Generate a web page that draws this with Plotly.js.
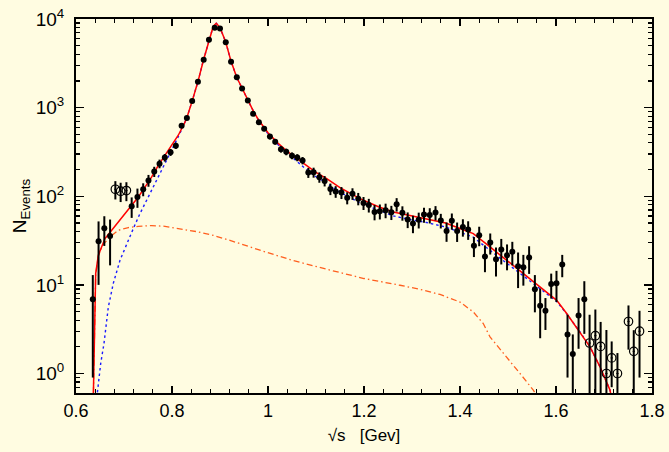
<!DOCTYPE html>
<html>
<head>
<meta charset="utf-8">
<script src="https://cdn.plot.ly/plotly-3.0.1.min.js"></script>
<style>html,body{margin:0;padding:0;background:#fffce1;}#chart{width:669px;height:452px;}</style>
</head>
<body>
<div id="chart"></div>
<script>
// ---- measured data (filled points) ----
const dataX = [0.635,0.647,0.659,0.671,0.716,0.728,0.740,0.751,0.763,0.774,0.785,0.797,0.808,0.820,0.831,0.842,0.854,0.866,0.877,0.889,0.900,0.912,0.923,0.935,0.946,0.958,0.969,0.981,0.992,1.004,1.015,1.027,1.038,1.050,1.061,1.072,1.084,1.095,1.107,1.118,1.130,1.141,1.153,1.165,1.176,1.188,1.199,1.210,1.222,1.233,1.245,1.257,1.268,1.280,1.291,1.302,1.314,1.325,1.337,1.349,1.360,1.372,1.383,1.394,1.406,1.417,1.429,1.440,1.452,1.463,1.475,1.486,1.498,1.509,1.521,1.532,1.544,1.556,1.567,1.578,1.590,1.601,1.613,1.624,1.635,1.647,1.659];
const dataY = [6.9,31,43.5,35.6,77,98,120,151,190,233,273,313,372,626,763,1187,1963,3476,5845,7980,7798,5478,3304,2208,1642,1202,851,686,579,471,413,339,317,286,273,253,185,186,164,149,121,113,110,96,107,94,84,79.5,66.5,67.7,69.5,65.9,81.2,65,54.7,49.3,54.3,62.1,61.3,65.4,53.3,40.6,52.9,40.5,45,42.2,27.6,36.3,20.9,30,19.4,25,21.6,23.6,16.2,15.8,20.3,8.9,5.8,5.1,10.2,10.4,17,2.75,1.66,4.5,6.9];
const dataErr = [6,21,16,19,20,24,20,23,25,26,27,28,30,36,40,50,65,88,115,134,132,110,86,70,61,52,44,39,36,33,30,28,27,25,25,24,24,24,22,20,18,17,17,15,16,15,14,14,13,13,13,12,14,12,11,11,11,12,12,12,10,10,11,10,10,10,7,9,7,8,7,8,7,7,7,6,7,4,3.3,2,3.2,4,4.8,1.85,1.1,2.6,4.1];
// ---- open-circle points ----
const openX = [0.682,0.693,0.705,1.670,1.682,1.693,1.705,1.716,1.728,1.751,1.762,1.774];
const openY = [120,114,116,2.21,2.67,2.02,1.0,1.5,1.0,3.86,1.78,3.0];
const openErr = [28,28,28,2.4,2.6,1.8,2.1,0.8,0.7,2,1.3,2.1];
// ---- total fit (red) ----
const fitX = [0.6352,0.6381,0.641,0.6465,0.6604,0.6744,0.6881,0.7021,0.716,0.7298,0.7438,0.7577,0.7715,0.7854,0.7994,0.8131,0.825,0.8313,0.8423,0.8542,0.8656,0.8771,0.886,0.8923,0.9,0.9119,0.9229,0.9348,0.9463,0.9577,0.97,0.98,0.99,1.0,1.02,1.04,1.06,1.08,1.1,1.1223,1.15,1.1917,1.23,1.261,1.3,1.3306,1.37,1.4,1.4277,1.4625,1.4973,1.5319,1.5667,1.6015,1.6223,1.65,1.6708,1.6917,1.7125,1.72];
const fitY = [0.3,3.1,13.4,21.6,33.3,41.3,51.2,63.7,79.1,98.1,127,165,223,289,376,488,650,780,1200,1980,3450,5900,8300,8950,8000,5500,3350,2200,1620,1200,900,730,610,520,400,322,268,222,186,158,125,94,76,66.4,60,56,50,43.2,37.9,26.8,18.9,13.4,9.5,6.7,4.75,2.94,2.0,1.19,0.65,0.4];
// ---- resonance component (blue dotted) ----
const resX = [0.6435,0.6444,0.6515,0.6583,0.6673,0.6777,0.6917,0.7056,0.7194,0.7333,0.7473,0.761,0.7785,0.7958,0.8131,0.825,0.8313,0.8423,0.8542,0.8656,0.8771,0.886,0.8923,0.9,0.9119,0.9229,0.9348,0.9463,0.9577,0.97,0.98,0.99,1.0,1.02,1.04,1.06,1.08,1.1,1.1223,1.15,1.1917,1.23,1.261,1.3,1.3306,1.37,1.4,1.4277,1.4625,1.4973,1.5319,1.5667,1.6015,1.6223,1.65,1.6708,1.6917,1.7125,1.72];
const resY = [0.3,0.6,1.3,2.18,5.6,10.4,19,29.2,43.2,63.7,90,127,196,300,470,640,780,1200,1980,3450,5900,8300,8950,8000,5500,3350,2200,1620,1200,900,730,605,505,385,305,248,200,166,140,111,84,69,60,54,50.5,45,39,34.5,24.5,17.6,12.4,8.9,6.5,4.7,2.94,2.0,1.19,0.65,0.4];
// ---- other component (orange dash-dot) ----
const bgX = [0.6352,0.638,0.641,0.6465,0.655,0.6708,0.6881,0.709,0.7298,0.7577,0.7854,0.8131,0.85,0.8833,0.9208,0.9833,1.05,1.1223,1.2,1.275,1.3167,1.3583,1.3792,1.4,1.4277,1.4485,1.4625,1.4973,1.525,1.5527,1.565];
const bgY = [0.3,3,13,21,28,34.7,41.3,44.3,45.8,46.7,45.8,43.2,40,36.5,31.8,24.6,19,15,11.8,9.9,8.9,7.8,7.0,6.4,4.95,3.66,2.59,1.54,1.0,0.65,0.5];

const xTickVals = [0.6,0.8,1,1.2,1.4,1.6,1.8];
const xTickText = ['0.6','0.8','1','1.2','1.4','1.6','1.8'];
const yTickVals = [1,10,100,1000,10000];
const yTickText = ['10<sup>0</sup>','10<sup>1</sup>','10<sup>2</sup>','10<sup>3</sup>','10<sup>4</sup>'];

const yMinor = [];
[0.1,1,10,100,1000].forEach(function(d){ for(let k=2;k<=9;k++){ yMinor.push(k*d); } });

const bg = '#fffce1';
const traces = [
  {x:bgX, y:bgY, mode:'lines', line:{color:'#ff5f1f', width:1.3, dash:'6px,3px,1.5px,3px'}, hoverinfo:'skip'},
  {x:resX, y:resY, mode:'lines', line:{color:'#1a1aff', width:1.4, dash:'2.5px,3px'}, hoverinfo:'skip'},
  {x:fitX, y:fitY, mode:'lines', line:{color:'#ff0000', width:1.5}, hoverinfo:'skip'},
  {x:dataX, y:dataY, mode:'markers', marker:{symbol:'circle', size:6, color:'#000'},
   error_y:{type:'data', array:dataErr, visible:true, color:'#000', thickness:2, width:0}},
  {x:openX, y:openY, mode:'markers', marker:{symbol:'circle-open-dot', size:8.5, color:'#000', line:{width:1.2, color:'#000'}},
   error_y:{type:'data', array:openErr, visible:true, color:'#000', thickness:2, width:0}}
];

const layout = {
  width:669, height:452,
  margin:{l:76, r:17, t:19, b:59},
  paper_bgcolor:bg, plot_bgcolor:bg,
  showlegend:false,
  font:{family:'Liberation Sans, Arial, sans-serif', color:'#000'},
  xaxis:{
    range:[0.6,1.8], tickmode:'array', tickvals:xTickVals, ticktext:xTickText,
    ticks:'inside', ticklen:7, tickwidth:1.5, tickcolor:'#000',
    showline:true, linewidth:2, linecolor:'#000', mirror:'allticks',
    showgrid:false, zeroline:false,
    tickfont:{size:18},
    minor:{dtick:0.04, tick0:0.6, ticks:'inside', ticklen:4, tickwidth:1.2, tickcolor:'#000', showgrid:false},
    title:{text:'\u221As\u00a0\u00a0\u00a0[Gev]', font:{size:17}, standoff:10}
  },
  yaxis:{
    type:'log', range:[-0.22,4], tickmode:'array', tickvals:yTickVals, ticktext:yTickText,
    ticks:'inside', ticklen:8, tickwidth:1.5, tickcolor:'#000',
    showline:true, linewidth:2, linecolor:'#000', mirror:'allticks',
    showgrid:false, zeroline:false, ticklabelstandoff:6,
    tickfont:{size:19},
    minor:{tickmode:'array', tickvals:yMinor, ticks:'inside', ticklen:4, tickwidth:1.2, tickcolor:'#000', showgrid:false},
    title:{text:'N<sub>Events</sub>', font:{size:19}, standoff:4}
  }
};

Plotly.newPlot('chart', traces, layout, {displayModeBar:false, staticPlot:true});
</script>
</body>
</html>
